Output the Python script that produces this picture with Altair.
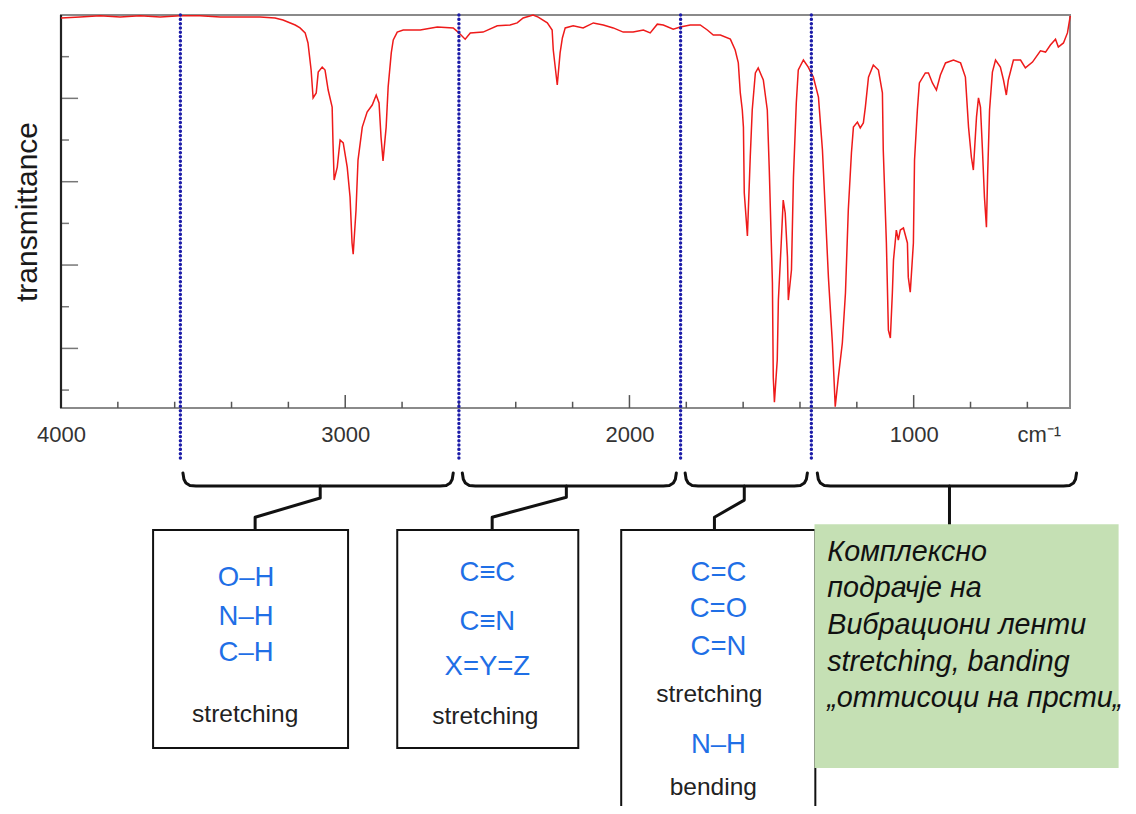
import altair as alt
import pandas as pd

# ---------------- spectrum ----------------
wavenumber = [4000, 3933, 3863, 3792, 3722, 3651, 3581, 3511, 3440, 3370, 3300, 3247, 3219, 3176,
              3159, 3141, 3131, 3120, 3113, 3102, 3095, 3081, 3071, 3060, 3046, 3043, 3039, 3028,
              3018, 3007, 2993, 2983, 2976, 2972, 2962, 2955, 2940, 2923, 2905, 2891, 2881, 2874,
              2867, 2856, 2849, 2838, 2831, 2817, 2796, 2736, 2676, 2620, 2603, 2578, 2560, 2515,
              2465, 2420, 2395, 2374, 2339, 2321, 2289, 2272, 2268, 2254, 2244, 2236, 2226, 2198,
              2163, 2127, 2092, 2057, 2022, 1987, 1951, 1927, 1902, 1881, 1846, 1821, 1786, 1751,
              1726, 1705, 1680, 1645, 1628, 1617, 1610, 1603, 1599, 1596, 1585, 1575, 1568, 1557,
              1547, 1529, 1515, 1508, 1497, 1494, 1490, 1480, 1476, 1466, 1459, 1452, 1444, 1441,
              1430, 1423, 1413, 1406, 1388, 1371, 1353, 1335, 1321, 1311, 1300, 1286, 1279, 1276,
              1265, 1251, 1240, 1230, 1219, 1212, 1198, 1188, 1177, 1170, 1159, 1142, 1124, 1110,
              1107, 1096, 1089, 1082, 1075, 1071, 1061, 1054, 1047, 1036, 1022, 1019, 1012, 1001,
              997, 987, 980, 959, 948, 934, 920, 906, 888, 860, 835, 818, 807, 797, 790, 779, 772,
              765, 758, 751, 744, 740, 733, 723, 712, 695, 684, 674, 667, 649, 624, 607, 582, 554,
              536, 519, 501, 491, 473, 459, 449]
transmittance = [99.3, 99.5, 99.8, 99.5, 99.8, 99.5, 99.8, 99.8, 99.5, 99.5, 99.5, 99.3, 98.8, 97.6,
                 96.9, 95.7, 93.3, 86.8, 80.1, 81.3, 86.3, 87.5, 86.8, 82.0, 77.9, 69.3, 60.4, 63.5,
                 70.0, 69.3, 63.5, 56.3, 45.3, 42.6, 53.2, 65.2, 73.1, 76.7, 78.4, 80.8, 78.9, 70.7,
                 65.0, 73.1, 82.7, 90.9, 94.0, 95.9, 96.4, 96.4, 97.1, 96.9, 95.9, 94.2, 95.7, 95.9,
                 97.4, 97.6, 98.1, 99.3, 100.0, 99.5, 98.1, 96.4, 91.6, 83.2, 90.9, 94.5, 96.9, 97.4,
                 96.9, 98.1, 97.6, 96.9, 95.9, 95.9, 96.4, 95.7, 97.8, 97.6, 96.6, 97.1, 97.6, 97.6,
                 96.4, 95.2, 95.2, 94.2, 91.6, 88.5, 81.3, 77.2, 73.1, 57.3, 47.0, 65.9, 77.2, 86.1,
                 87.3, 84.4, 77.2, 62.8, 35.7, 13.1, 7.1, 17.2, 31.6, 45.3, 55.6, 52.5, 41.9, 31.6,
                 38.8, 61.1, 78.9, 86.8, 89.2, 87.5, 85.1, 80.3, 67.6, 53.2, 37.1, 21.3, 10.7, 6.0,
                 13.1, 21.3, 33.3, 53.2, 66.9, 73.1, 74.3, 72.9, 74.1, 77.9, 85.1, 88.0, 86.8, 81.3,
                 67.6, 45.3, 24.4, 22.5, 33.3, 41.2, 48.4, 46.0, 48.4, 48.9, 45.3, 37.1, 33.5, 45.3,
                 65.2, 77.2, 83.7, 86.1, 86.1, 83.7, 82.0, 85.6, 88.5, 89.2, 88.5, 85.1, 73.1, 65.9,
                 62.8, 75.5, 80.1, 77.9, 67.6, 56.3, 49.1, 61.1, 77.2, 86.3, 89.2, 87.5, 84.4, 80.8,
                 84.4, 89.2, 89.2, 87.3, 88.7, 91.4, 91.1, 92.8, 94.2, 92.3, 93.3, 95.7, 99.8]
assert len(wavenumber) == len(transmittance)

# ---------------- axes ----------------
axis_label_values = [4000, 3000, 2000, 1000]
unit_label_wn = 560
unit_label = "cm⁻¹"
y_tick_values = [90, 80, 70, 60, 50, 40, 30, 20, 10]
y_tick_long = [False, True, False, True, False, True, False, True, False]
x_tick_major = [3000, 2000, 1000]
x_tick_minor = [3800, 3600, 3400, 3200, 2800, 2600, 2400, 2200, 1800, 1600, 1400, 1200, 800, 600]

# ---------------- region boundaries ----------------
boundary_wn = [3580, 2600, 1820, 1360]
boundary_bottom_T = -6.8

# ---------------- braces / connectors / boxes (in data units) ----------------
brace_start = [3571, 2588, 1804, 1339]
brace_end = [2620, 1835, 1374, 427]
stub_wn = [3088, 2222, 1596, 874]
elbow_T = [-15.9, -15.7, -16.4, -22.2]
link_wn = [3317, 2483, 1701, 874]
link_T = [-20.5, -20.5, -20.5, -22.2]
box_top_T = [-23.6, -23.6, -23.6, -22.2]

box_left = [3676, 2817, 2029]
box_right = [2990, 2180, 1346]
box_bottom = [-75.9, -75.9, -99.0]
green_box = [1349, 279, -22.2, -80.7]  # left, right, top, bottom

blue_labels = ["O–H", "N–H", "C–H", "C≡C", "C≡N", "X=Y=Z", "C=C", "C=O", "C=N", "N–H"]
blue_wn = [3349, 3349, 3349, 2500, 2500, 2500, 1687, 1687, 1687, 1687]
blue_T = [-35.1, -44.5, -53.1, -33.9, -45.7, -56.5, -33.9, -42.6, -51.7, -75.2]
black_labels = ["stretching", "stretching", "stretching", "bending"]
black_wn = [3352, 2507, 1719, 1705]
black_T = [-68.0, -68.5, -63.2, -85.5]
green_lines = ["Комплексно", "подрачје на", "Вибрациони ленти", "stretching, banding",
               "„оттисоци на прсти„"]
green_T = [-28.8, -37.5, -46.4, -55.2, -63.9]
green_text_wn = 1304

FONT = "Liberation Sans"

# ---------------- tables ----------------
spec_df = pd.DataFrame({"wn": wavenumber, "T": transmittance})

ytick_df = pd.DataFrame({
    "T": y_tick_values,
    "wn": [4000] * len(y_tick_values),
    "wn2": [3940 if l else 3972 for l in y_tick_long],
})
xtick_df = pd.DataFrame({
    "wn": x_tick_major + x_tick_minor,
    "T": [5.7] * (len(x_tick_major) + len(x_tick_minor)),
    "T2": [8.8] * len(x_tick_major) + [7.2] * len(x_tick_minor),
})
left_edge_df = pd.DataFrame({"wn": [4000], "T": [5.7], "T2": [100]})
bound_df = pd.DataFrame({"wn": boundary_wn, "T": [100] * 4, "T2": [boundary_bottom_T] * 4})

# brace outlines
curl_dwn = [0, 3.5, 10.6, 24.6, 45.8]
curl_T = [-9.9, -11.4, -12.3, -12.9, -13.0]
rows = []
for i, (a, b) in enumerate(zip(brace_start, brace_end)):
    pts = [(a - d, t) for d, t in zip(curl_dwn, curl_T)]
    pts += [(b + d, t) for d, t in reversed(list(zip(curl_dwn, curl_T)))]
    for k, (w, t) in enumerate(pts):
        rows.append({"g": f"b{i}", "o": k, "wn": w, "T": t})
    conn = [(stub_wn[i], -13.0), (stub_wn[i], elbow_T[i]), (link_wn[i], link_T[i]),
            (link_wn[i], box_top_T[i])]
    for k, (w, t) in enumerate(conn):
        rows.append({"g": f"c{i}", "o": k, "wn": w, "T": t})
brace_df = pd.DataFrame(rows)

box_df = pd.DataFrame({"wn": box_left, "wn2": box_right, "T": [-23.6] * 3, "T2": box_bottom})
green_df = pd.DataFrame({"wn": [green_box[0]], "wn2": [green_box[1]],
                         "T": [green_box[2]], "T2": [green_box[3]]})
blue_df = pd.DataFrame({"label": blue_labels, "wn": blue_wn, "T": blue_T})
black_df = pd.DataFrame({"label": black_labels, "wn": black_wn, "T": black_T})
green_txt_df = pd.DataFrame({"label": green_lines, "wn": [green_text_wn] * 5, "T": green_T})

# ---------------- encodings ----------------
xs = alt.Scale(domain=[4000, 450], nice=False, zero=False)
ys = alt.Scale(domain=[5.7, 100], nice=False, zero=False)
xaxis = alt.Axis(values=axis_label_values + [unit_label_wn],
                 labelExpr=f"datum.value == {unit_label_wn} ? '{unit_label}' : datum.value",
                 ticks=False, domain=False, grid=False, title=None, labelFlush=False,
                 labelOverlap=False, labelFont=FONT, labelFontSize=22, labelColor="#333333",
                 labelPadding=16)
yaxis = alt.Axis(labels=False, ticks=False, domain=False, grid=False, title="transmittance",
                 titleFont=FONT, titleFontSize=30, titleFontWeight="normal",
                 titleColor="#1a1a1a", titlePadding=19)
X = alt.X("wn:Q", scale=xs, axis=xaxis)
Y = alt.Y("T:Q", scale=ys, axis=yaxis)

yticks = alt.Chart(ytick_df).mark_rule(color="#777777", strokeWidth=1.5).encode(
    x=X, x2="wn2:Q", y=Y)
xticks = alt.Chart(xtick_df).mark_rule(color="#555555", strokeWidth=1.5).encode(
    x=X, y=Y, y2="T2:Q")
left_edge = alt.Chart(left_edge_df).mark_rule(color="#222222", strokeWidth=2.2).encode(
    x=X, y=Y, y2="T2:Q")
spectrum = alt.Chart(spec_df).mark_line(color="#ee1a1a", strokeWidth=1.5).encode(
    x=X, y=Y)
bounds = alt.Chart(bound_df).mark_rule(color="#1c1ca8", strokeWidth=3.4,
                                       strokeDash=[0.1, 4.2], strokeCap="round").encode(
    x=X, y=Y, y2="T2:Q")
braces = alt.Chart(brace_df).mark_line(color="#111111", strokeWidth=3,
                                       strokeJoin="round", strokeCap="round").encode(
    x=X, y=Y, detail="g:N", order="o:Q")
boxes = alt.Chart(box_df).mark_rect(fill="white", stroke="#111111", strokeWidth=2).encode(
    x=X, x2="wn2:Q", y=Y, y2="T2:Q")
green = alt.Chart(green_df).mark_rect(fill="#c5e0b4").encode(
    x=X, x2="wn2:Q", y=Y, y2="T2:Q")
blue_txt = alt.Chart(blue_df).mark_text(font=FONT, fontSize=27.5, color="#1f6fe6",
                                        align="center", baseline="middle").encode(
    x=X, y=Y, text="label:N")
black_txt = alt.Chart(black_df).mark_text(font=FONT, fontSize=24.5, color="#222222",
                                          align="center", baseline="middle").encode(
    x=X, y=Y, text="label:N")
green_txt = alt.Chart(green_txt_df).mark_text(font=FONT, fontSize=28.7, fontStyle="italic",
                                              color="#111111", align="left",
                                              baseline="middle").encode(
    x=X, y=Y, text="label:N")

chart = alt.layer(
    yticks, xticks, left_edge, spectrum, bounds, braces, boxes, green,
    blue_txt, black_txt, green_txt
).properties(
    width=1009, height=393,
    autosize=alt.AutoSizeParams(type="none"),
    padding={"left": 53, "top": 7, "right": 58, "bottom": 398},
).configure_view(stroke="#8a8a8a", strokeWidth=2)

chart.save("out.html", embed_options={"renderer": "svg", "actions": False})
